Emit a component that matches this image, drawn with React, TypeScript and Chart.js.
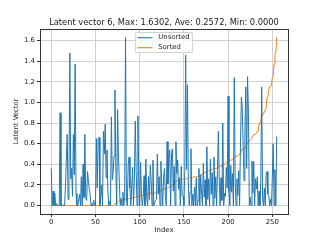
import React, { useEffect, useRef } from 'react';
import { Chart, registerables } from 'chart.js';

Chart.register(...registerables);

const TITLE = 'Latent vector 6, Max: 1.6302, Ave: 0.2572, Min: 0.0000';
const SERIES_LABELS = ['Unsorted', 'Sorted'];
const SERIES_COLORS = ['#1f77b4', '#ff7f0e'];
const X_TITLE = 'Index';
const Y_TITLE = 'Latent Vector';
const X_TICKS = [0, 50, 100, 150, 200, 250];
const Y_TICKS = [0, 0.2, 0.4, 0.6, 0.8, 1.0, 1.2, 1.4, 1.6];

const UNSORTED = [
  0.36, 0.0, 0.14, 0.0, 0.12, 0.0, 0.02, 0.0, 0.0, 0.0, 0.90, 0.0, 0.0, 0.01, 0.0, 0.0,
  0.18, 0.44, 0.69, 0.06, 0.28, 1.48, 0.26, 0.36, 0.09, 0.69, 0.30, 1.37, 0.12, 0.0, 0.0, 0.06,
  0.11, 0.0, 0.28, 0.0, 0.40, 0.08, 0.69, 0.07, 0.05, 0.33, 0.24, 0.16, 0.10, 0.0, 0.02, 0.0,
  0.05, 0.0, 0.0, 0.65, 0.17, 0.64, 0.66, 0.0, 0.08, 0.20, 0.0, 0.72, 0.50, 0.79, 0.27, 0.54,
  0.15, 0.0, 0.04, 0.0, 0.86, 0.25, 0.32, 0.48, 1.12, 0.38, 0.0, 0.93, 0.48, 0.22, 0.0, 0.07,
  0.0, 0.13, 0.0, 0.09, 1.63, 0.04, 0.0, 0.40, 0.47, 0.17, 0.0, 0.19, 0.37, 0.0, 0.26, 0.82,
  0.34, 0.0, 0.87, 0.27, 0.0, 0.42, 0.10, 0.0, 0.09, 0.29, 0.0, 0.45, 0.07, 0.0, 0.28, 0.06,
  0.39, 0.24, 0.0, 0.44, 0.0, 0.03, 0.05, 0.06, 0.50, 0.11, 0.28, 0.0, 0.43, 0.18, 0.0, 0.26,
  0.36, 0.12, 0.0, 0.62, 0.21, 0.48, 0.54, 0.0, 0.49, 0.55, 0.14, 0.38, 0.0, 0.62, 0.31, 0.44,
  0.16, 0.27, 0.0, 0.38, 0.10, 0.09, 0.0, 0.33, 1.46, 0.35, 1.17, 0.23, 0.0, 0.13, 0.55, 0.0,
  0.11, 0.0, 0.18, 0.0, 0.27, 0.0, 0.05, 0.36, 0.0, 0.30, 0.12, 0.0, 0.41, 0.08, 0.25, 0.0,
  0.57, 0.06, 0.26, 0.0, 0.45, 0.11, 0.32, 0.0, 0.47, 0.07, 0.28, 0.0, 0.35, 0.72, 0.24, 0.0,
  0.27, 0.05, 0.80, 0.0, 0.12, 0.09, 0.37, 0.17, 1.06, 0.14, 0.0, 0.39, 0.13, 0.31, 0.0, 1.24,
  0.23, 0.0, 0.26, 0.10, 0.34, 0.0, 0.60, 1.05, 0.95, 0.58, 0.24, 0.70, 1.15, 0.36, 1.25, 0.90,
  0.0, 0.08, 0.0, 0.43, 0.12, 0.43, 0.0, 0.26, 0.16, 0.28, 0.0, 0.14, 0.0, 0.25, 1.15, 0.07,
  0.0, 0.17, 0.0, 0.29, 0.33, 0.11, 0.10, 0.0, 0.06, 0.0, 0.27, 0.60, 0.0, 0.35, 0.0, 0.67,
];
const SORTED = [...UNSORTED].sort((a, b) => a - b);

const FONT = '"DejaVu Sans", "Liberation Sans", sans-serif';
const TEXT_COLOR = '#1a1a1a';

const decor = {
  id: 'decor',
  afterDatasetsDraw(chart: any) {
    const { ctx, chartArea: a } = chart;
    ctx.save();
    // spines
    ctx.strokeStyle = '#333333';
    ctx.lineWidth = 1;
    const l = Math.floor(a.left) + 0.5;
    const t = Math.floor(a.top) + 0.5;
    const r = Math.floor(a.right) + 0.5;
    const b = Math.floor(a.bottom) + 0.5;
    ctx.strokeRect(l, t, r - l, b - t);

    // legend
    const fs = 6.9;
    ctx.font = `${fs}px ${FONT}`;
    const ds = chart.data.datasets;
    const maxW = Math.max(...ds.map((d: any) => ctx.measureText(d.label).width));
    const boxW = 22.8 + maxW + 3;
    const boxH = 20;
    const mid = (a.left + a.right) / 2;
    const x0 = mid - boxW / 2;
    const y0 = a.top + 3.5;
    ctx.beginPath();
    if (ctx.roundRect) ctx.roundRect(x0, y0, boxW, boxH, 1.5);
    else ctx.rect(x0, y0, boxW, boxH);
    ctx.fillStyle = 'rgba(255,255,255,0.8)';
    ctx.fill();
    ctx.strokeStyle = 'rgba(204,204,204,0.9)';
    ctx.lineWidth = 1;
    ctx.stroke();
    ds.forEach((d: any, i: number) => {
      const cy = y0 + 5.2 + i * 10;
      ctx.strokeStyle = d.borderColor;
      ctx.lineWidth = 1.1;
      ctx.beginPath();
      ctx.moveTo(x0 + 2, cy);
      ctx.lineTo(x0 + 17, cy);
      ctx.stroke();
      ctx.fillStyle = TEXT_COLOR;
      ctx.textAlign = 'left';
      ctx.textBaseline = 'middle';
      ctx.fillText(d.label, x0 + 22.8, cy);
    });

    // title
    ctx.fillStyle = TEXT_COLOR;
    ctx.font = `8.3px ${FONT}`;
    ctx.textAlign = 'center';
    ctx.textBaseline = 'alphabetic';
    ctx.fillText(TITLE, mid, a.top - 4.5);

    // axis titles
    ctx.font = `6.9px ${FONT}`;
    ctx.fillText(X_TITLE, mid, 231.5);
    ctx.save();
    ctx.translate(16.5, (a.top + a.bottom) / 2);
    ctx.rotate(-Math.PI / 2);
    ctx.textBaseline = 'middle';
    ctx.fillText(Y_TITLE, 0, 0);
    ctx.restore();
    ctx.restore();
  },
};

export default function App() {
  const ref = useRef<HTMLCanvasElement | null>(null);
  useEffect(() => {
    document.body.style.margin = '0';
    const canvas = ref.current;
    if (!canvas) return;
    const n = UNSORTED.length;
    const xPad = (n - 1) * 0.05;
    const yMax = Math.max(...UNSORTED);
    const yMin = Math.min(...UNSORTED);
    const yPad = (yMax - yMin) * 0.05;
    const tickFont = { family: FONT, size: 6.9 };
    const chart = new Chart(canvas, {
      type: 'line',
      data: {
        datasets: [
          {
            label: SERIES_LABELS[0],
            data: UNSORTED.map((v, i) => ({ x: i, y: v })),
            borderColor: SERIES_COLORS[0],
            backgroundColor: SERIES_COLORS[0],
            borderWidth: 1,
            pointRadius: 0,
            tension: 0,
          },
          {
            label: SERIES_LABELS[1],
            data: SORTED.map((v, i) => ({ x: i, y: v })),
            borderColor: SERIES_COLORS[1],
            backgroundColor: SERIES_COLORS[1],
            borderWidth: 1,
            pointRadius: 0,
            tension: 0,
          },
        ],
      },
      options: {
        responsive: false,
        animation: false,
        devicePixelRatio: 1,
        layout: { padding: { left: 0, right: 32, top: 29, bottom: 0 } },
        plugins: {
          legend: { display: false },
          title: { display: false },
          tooltip: { enabled: false },
        },
        scales: {
          x: {
            type: 'linear',
            min: -xPad,
            max: n - 1 + xPad,
            afterBuildTicks: (s: any) => {
              s.ticks = X_TICKS.map((v) => ({ value: v }));
            },
            afterFit: (s: any) => {
              s.height = 26;
            },
            ticks: {
              font: tickFont,
              color: TEXT_COLOR,
              padding: 1,
              maxRotation: 0,
              autoSkip: false,
              callback: (v: any) => String(v),
            },
            grid: { color: '#d0d0d0', lineWidth: 1, tickColor: '#333333', tickLength: 3, drawTicks: true },
            border: { display: false },
          },
          y: {
            type: 'linear',
            min: yMin - yPad,
            max: yMax + yPad,
            afterBuildTicks: (s: any) => {
              s.ticks = Y_TICKS.map((v) => ({ value: v }));
            },
            afterFit: (s: any) => {
              s.width = 40;
            },
            ticks: {
              font: tickFont,
              color: TEXT_COLOR,
              padding: 2,
              autoSkip: false,
              callback: (v: any) => Number(v).toFixed(1),
            },
            grid: { color: '#d0d0d0', lineWidth: 1, tickColor: '#333333', tickLength: 3, drawTicks: true },
            border: { display: false },
          },
        },
      },
      plugins: [decor],
    });
    return () => chart.destroy();
  }, []);
  return (
    <div style={{ width: 320, height: 240, background: '#fff' }}>
      <canvas ref={ref} width={320} height={240} style={{ display: 'block' }} />
    </div>
  );
}
